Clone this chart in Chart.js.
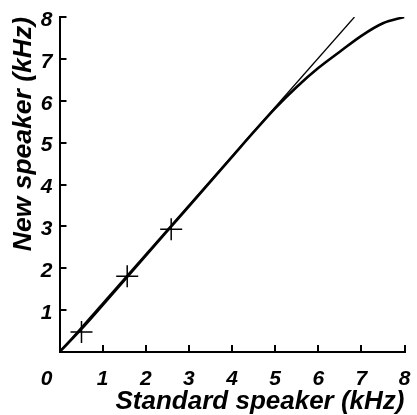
<!DOCTYPE html>
<html>
<head>
  <script src="https://cdn.jsdelivr.net/npm/chart.js@4/dist/chart.umd.min.js"></script>
  <style>
    body { margin: 0; background: #fff; }
    #wrap { width: 417px; height: 415px; }
  </style>
</head>
<body>
  <div id="wrap"><canvas id="c"></canvas></div>
  <script>
    // data (kHz)
    var curveX = [0, 0.5, 1, 2, 3, 4, 4.5, 5, 5.5, 6, 6.5, 7, 7.5, 8];
    var curveY = [0, 0.54, 1.12, 2.3, 3.48, 4.66, 5.25, 5.82, 6.33, 6.78, 7.17, 7.55, 7.85, 8.0];
    var lineX = [0, 6.84];
    var lineY = [0, 8];
    var markX = [0.51, 1.57, 2.59];
    var markY = [0.48, 1.81, 2.93];
    var tickVals = [0, 1, 2, 3, 4, 5, 6, 7, 8];

    function pts(xs, ys) {
      var out = [];
      for (var i = 0; i < xs.length; i++) out.push({ x: xs[i], y: ys[i] });
      return out;
    }

    var fam = '"Liberation Sans", Arial, sans-serif';

    // x axis "0" sits left of the origin, drawn separately
    var originLabel = {
      id: 'originLabel',
      afterDraw: function(chart) {
        var xs = chart.scales.x;
        var ctx = chart.ctx;
        ctx.save();
        ctx.font = 'italic bold 21px ' + fam;
        ctx.fillStyle = '#000';
        ctx.textAlign = 'center';
        ctx.textBaseline = 'middle';
        ctx.fillText('0', xs.getPixelForValue(0) - 13, xs.top + 27);
        ctx.restore();
      }
    };

    function noPad(s) {
      s.paddingTop = 0; s.paddingBottom = 0; s.paddingLeft = 0; s.paddingRight = 0;
    }

    new Chart(document.getElementById('c'), {
      type: 'scatter',
      data: {
        datasets: [
          {
            data: pts(curveX, curveY),
            showLine: true,
            borderColor: '#000',
            borderWidth: 2.6,
            pointRadius: 0,
            cubicInterpolationMode: 'monotone'
          },
          {
            data: pts(lineX, lineY),
            showLine: true,
            borderColor: '#000',
            borderWidth: 1.3,
            pointRadius: 0
          },
          {
            data: pts(markX, markY),
            showLine: false,
            pointStyle: 'cross',
            pointRadius: 11,
            borderColor: '#000',
            borderWidth: 1.5
          }
        ]
      },
      options: {
        responsive: true,
        maintainAspectRatio: false,
        animation: false,
        layout: { padding: { top: 17, right: 10, left: 0, bottom: 0 } },
        plugins: { legend: { display: false }, tooltip: { enabled: false } },
        scales: {
          x: {
            type: 'linear',
            min: 0,
            max: 8,
            afterBuildTicks: function(s) { s.ticks = tickVals.map(function(v) { return { value: v }; }); },
            afterFit: function(s) { s.height = 63; noPad(s); },
            grid: {
              drawOnChartArea: false,
              tickLength: -7,
              lineWidth: 2,
              tickColor: function(c) { return c.tick && c.tick.value === 0 ? 'rgba(0,0,0,0)' : '#000'; }
            },
            border: { color: '#000', width: 2 },
            ticks: {
              color: '#000',
              padding: 22,
              maxRotation: 0,
              font: { family: fam, size: 21, style: 'italic', weight: 'bold' },
              callback: function(v) { return v === 0 ? '' : String(v); }
            },
            title: {
              display: true,
              text: 'Standard speaker (kHz)',
              align: 'end',
              color: '#000',
              padding: 0,
              font: { family: fam, size: 26, style: 'italic', weight: 'bold', lineHeight: 1 }
            }
          },
          y: {
            type: 'linear',
            min: 0,
            max: 8,
            afterBuildTicks: function(s) { s.ticks = tickVals.map(function(v) { return { value: v }; }); },
            afterFit: function(s) { s.width = 59.5; noPad(s); },
            grid: {
              drawOnChartArea: false,
              tickLength: -7,
              lineWidth: 2,
              tickColor: function(c) { return c.tick && c.tick.value === 0 ? 'rgba(0,0,0,0)' : '#000'; }
            },
            border: { color: '#000', width: 2 },
            ticks: {
              color: '#000',
              padding: 14,
              labelOffset: 3,
              font: { family: fam, size: 21, style: 'italic', weight: 'bold' },
              callback: function(v) { return v === 0 ? '' : String(v); }
            },
            title: {
              display: true,
              text: 'New speaker (kHz)',
              align: 'end',
              color: '#000',
              padding: { top: 10, bottom: 0 },
              font: { family: fam, size: 26.5, style: 'italic', weight: 'bold', lineHeight: 1 }
            }
          }
        }
      },
      plugins: [originLabel]
    });
  </script>
</body>
</html>
